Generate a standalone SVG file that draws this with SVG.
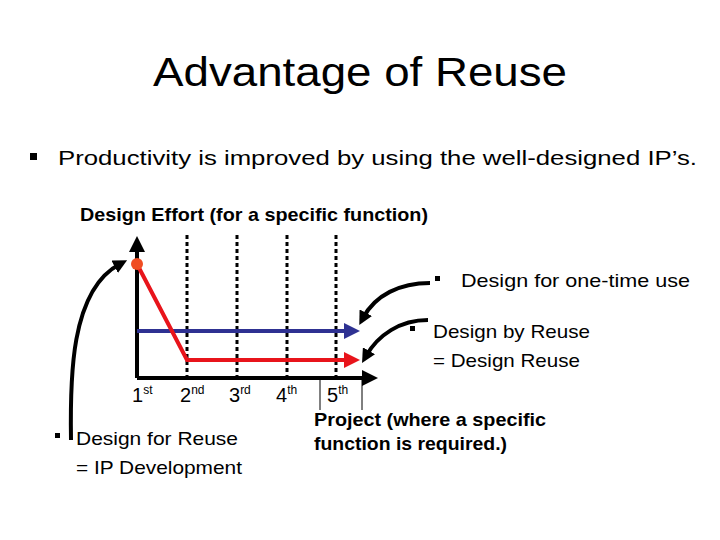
<svg xmlns="http://www.w3.org/2000/svg" width="720" height="540" viewBox="0 0 720 540">
<style>
text{font-family:"Liberation Sans",Arial,sans-serif;fill:#000}
.t{font-size:19px}
.b{font-size:19px;font-weight:bold}
.dot{stroke:#000;stroke-width:3;stroke-dasharray:4,3}
.cur{fill:none;stroke:#000;stroke-width:4}
</style>
<defs>
<marker id="ak" markerWidth="4" markerHeight="4" refX="2" refY="2" orient="auto"><path d="M0,0L4,2L0,4z" fill="#000"/></marker>
<marker id="ab" markerWidth="4" markerHeight="4" refX="2" refY="2" orient="auto"><path d="M0,0L4,2L0,4z" fill="#2e3192"/></marker>
<marker id="ar" markerWidth="4" markerHeight="4" refX="2" refY="2" orient="auto"><path d="M0,0L4,2L0,4z" fill="#e8141b"/></marker>
<marker id="ac" markerWidth="3.5" markerHeight="3.5" refX="1.5" refY="1.75" orient="auto"><path d="M0,0L3.5,1.75L0,3.5z" fill="#000"/></marker>
</defs>
<rect width="720" height="540" fill="#fff"/>
<text x="153" y="86" font-size="40" textLength="414" lengthAdjust="spacingAndGlyphs">Advantage of Reuse</text>
<rect x="30" y="153" width="7" height="7" fill="#000"/>
<text x="58" y="165" font-size="21" textLength="639" lengthAdjust="spacingAndGlyphs">Productivity is improved by using the well-designed IP’s.</text>
<text x="80" y="221" class="b" textLength="348" lengthAdjust="spacingAndGlyphs">Design Effort (for a specific function)</text>
<g id="axes">
<line x1="137" y1="378" x2="137" y2="244" stroke="#000" stroke-width="4" marker-end="url(#ak)"/>
<line x1="137" y1="378" x2="370" y2="378" stroke="#000" stroke-width="4" marker-end="url(#ak)"/>
<line x1="187" y1="235" x2="187" y2="376" class="dot"/>
<line x1="237" y1="235" x2="237" y2="376" class="dot"/>
<line x1="287" y1="235" x2="287" y2="376" class="dot"/>
<line x1="336" y1="235" x2="336" y2="376" class="dot"/>
</g>
<g id="lines">
<line x1="137" y1="331" x2="352" y2="331" stroke="#2e3192" stroke-width="4" marker-end="url(#ab)"/>
<polyline points="137,264 187,360 352,360" fill="none" stroke="#e8141b" stroke-width="4" marker-end="url(#ar)"/>
<circle cx="137" cy="264" r="6" fill="#f04e23"/>
</g>
<g id="labels" font-size="20">
<text x="132" y="402" font-size="20">1<tspan font-size="12" dy="-8">st</tspan></text>
<text x="180" y="402" font-size="20">2<tspan font-size="12" dy="-8">nd</tspan></text>
<text x="229" y="402" font-size="20">3<tspan font-size="12" dy="-8">rd</tspan></text>
<text x="276" y="402" font-size="20">4<tspan font-size="12" dy="-8">th</tspan></text>
<text x="327" y="402" font-size="20">5<tspan font-size="12" dy="-8">th</tspan></text>
<path d="M320,378V410M362,378V410" stroke="#000" stroke-width="1" fill="none"/>
</g>
<g id="connectors">
<path class="cur" d="M71,440C70,380 70,290 120,264" marker-end="url(#ac)"/>
<path class="cur" d="M430,283C400,283 375,295 363,318" marker-end="url(#ac)"/>
<path class="cur" d="M428,320C400,320 378,335 366,356" marker-end="url(#ac)"/>
</g>
<g id="notes" class="t">
<rect x="435" y="276" width="5" height="5" fill="#000"/>
<text x="461" y="287" textLength="229" lengthAdjust="spacingAndGlyphs">Design for one-time use</text>
<rect x="410" y="326" width="5" height="5" fill="#000"/>
<text x="433" y="338" textLength="157" lengthAdjust="spacingAndGlyphs">Design by Reuse</text>
<text x="433" y="367" textLength="147" lengthAdjust="spacingAndGlyphs">= Design Reuse</text>
<rect x="55" y="433" width="5" height="5" fill="#000"/>
<text x="76" y="445" textLength="162" lengthAdjust="spacingAndGlyphs">Design for Reuse</text>
<text x="76" y="474" textLength="166" lengthAdjust="spacingAndGlyphs">= IP Development</text>
<text x="314" y="426" class="b" textLength="232" lengthAdjust="spacingAndGlyphs">Project (where a specific</text>
<text x="314" y="450" class="b" textLength="193" lengthAdjust="spacingAndGlyphs">function is required.)</text>
</g>
</svg>
